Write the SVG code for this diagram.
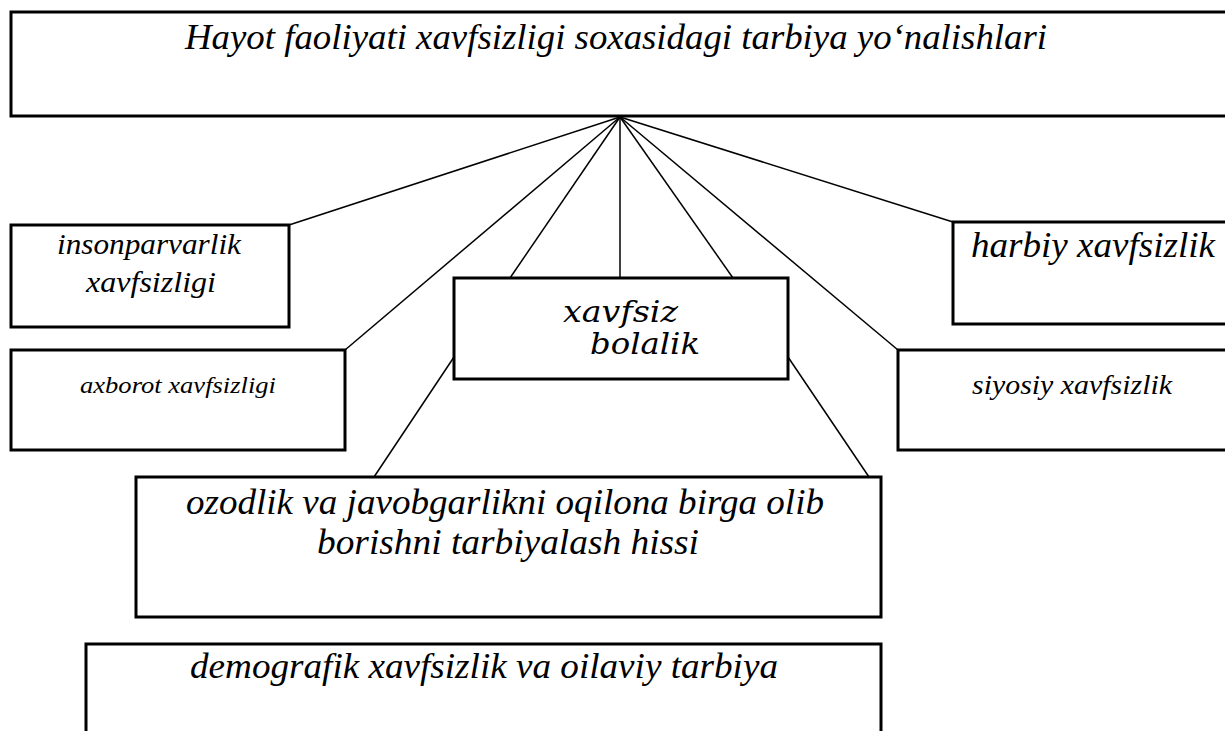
<svg xmlns="http://www.w3.org/2000/svg" width="1225" height="731" viewBox="0 0 1225 731">
<style>
.box{fill:#fff;stroke:#000;stroke-width:3}
.ln{stroke:#000;stroke-width:1.5;fill:none}
text{fill:#000;font-style:italic}
</style>
<rect width="1225" height="731" fill="#fff"/>
<g id="connectors">
<line class="ln" x1="620" y1="117" x2="289" y2="225"/>
<line class="ln" x1="620" y1="117" x2="345" y2="350"/>
<line class="ln" x1="620" y1="117" x2="510" y2="278"/>
<line class="ln" x1="620" y1="117" x2="620" y2="278"/>
<line class="ln" x1="620" y1="117" x2="733" y2="278"/>
<line class="ln" x1="620" y1="117" x2="898" y2="350"/>
<line class="ln" x1="620" y1="117" x2="953" y2="222"/>
<line class="ln" x1="454" y1="357" x2="374" y2="477"/>
<line class="ln" x1="788" y1="357" x2="869" y2="477"/>
</g>
<g id="top" font-family="Liberation Serif, Times New Roman, serif">
<rect class="box" x="11" y="12" width="1220" height="104"/>
<text x="185" y="49" font-size="35" textLength="862" lengthAdjust="spacingAndGlyphs">Hayot faoliyati xavfsizligi soxasidagi tarbiya yo‘nalishlari</text>
</g>
<g id="insonparvarlik" font-family="Liberation Serif, Times New Roman, serif">
<rect class="box" x="11" y="225" width="278" height="102"/>
<text x="57" y="254" font-size="30" textLength="184" lengthAdjust="spacingAndGlyphs">insonparvarlik</text>
<text x="86" y="292" font-size="30" textLength="130" lengthAdjust="spacingAndGlyphs">xavfsizligi</text>
</g>
<g id="axborot" font-family="Liberation Serif, Times New Roman, serif">
<rect class="box" x="11" y="350" width="334" height="100"/>
<text x="80" y="393" font-size="24" textLength="196" lengthAdjust="spacingAndGlyphs">axborot xavfsizligi</text>
</g>
<g id="xavfsiz" font-family="DejaVu Serif, serif">
<rect class="box" x="454" y="278" width="334" height="101"/>
<text x="563" y="322" font-size="30" textLength="115" lengthAdjust="spacingAndGlyphs">xavfsiz</text>
<text x="590" y="354" font-size="30" textLength="110" lengthAdjust="spacingAndGlyphs">bolalik</text>
</g>
<g id="harbiy" font-family="Liberation Serif, Times New Roman, serif">
<rect class="box" x="953" y="222" width="280" height="102"/>
<text x="971" y="257" font-size="35" textLength="244" lengthAdjust="spacingAndGlyphs">harbiy xavfsizlik</text>
</g>
<g id="siyosiy" font-family="Liberation Serif, Times New Roman, serif">
<rect class="box" x="898" y="350" width="335" height="100"/>
<text x="972" y="394" font-size="28" textLength="200" lengthAdjust="spacingAndGlyphs">siyosiy xavfsizlik</text>
</g>
<g id="ozodlik" font-family="Liberation Serif, Times New Roman, serif">
<rect class="box" x="136" y="477" width="745" height="140"/>
<text x="186" y="514" font-size="35" textLength="638" lengthAdjust="spacingAndGlyphs">ozodlik va javobgarlikni oqilona birga olib</text>
<text x="317" y="554" font-size="35" textLength="382" lengthAdjust="spacingAndGlyphs">borishni tarbiyalash hissi</text>
</g>
<g id="demografik" font-family="Liberation Serif, Times New Roman, serif">
<rect class="box" x="86" y="644" width="795" height="100"/>
<text x="190" y="678" font-size="35" textLength="588" lengthAdjust="spacingAndGlyphs">demografik xavfsizlik va oilaviy tarbiya</text>
</g>
</svg>
